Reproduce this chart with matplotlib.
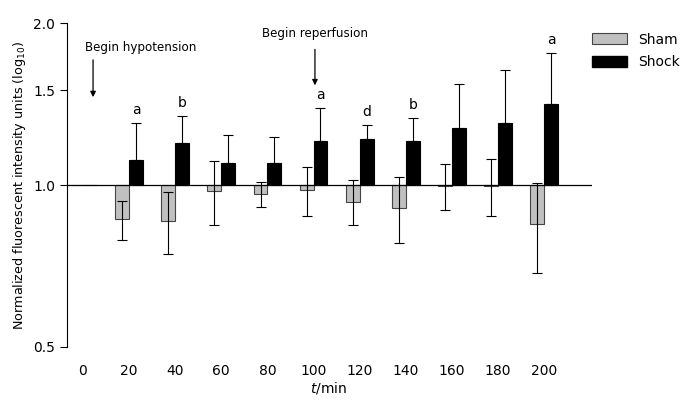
import numpy as np
import matplotlib
matplotlib.use('Agg')
import matplotlib.pyplot as plt
from matplotlib.patches import Patch

# data
times = ['0', '20', '40', '60', '80', '100', '120', '140', '160', '180', '200']
sham = [1.0, 0.863, 0.857, 0.975, 0.962, 0.977, 0.932, 0.908, 0.996, 0.998, 0.847]
sham_err = [0.0, 0.073, 0.112, 0.132, 0.050, 0.102, 0.091, 0.128, 0.097, 0.122, 0.160]
shock = [1.0, 1.111, 1.195, 1.100, 1.100, 1.209, 1.218, 1.209, 1.276, 1.306, 1.415]
shock_err = [0.0, 0.195, 0.150, 0.141, 0.126, 0.182, 0.077, 0.126, 0.263, 0.333, 0.348]
sig = ['', 'a', 'b', '', '', 'a', 'd', 'b', '', '', 'a']

plt.rcParams['font.family'] = 'DejaVu Sans'
plt.rcParams['font.size'] = 9.5

fig = plt.figure(figsize=(7.0, 4.01), dpi=100)
ax = fig.add_axes([0.0957, 0.135, 0.846 - 0.0957, 0.942 - 0.135])

x = np.arange(len(times))
w = 0.3
sham = np.array(sham)
shock = np.array(shock)

ax.bar(x - w / 2, sham - 1, bottom=1, width=w, color='#c0c0c0',
       edgecolor='#444444', linewidth=0.8, zorder=2)
ax.bar(x + w / 2, shock - 1, bottom=1, width=w, color='black',
       edgecolor='black', linewidth=0.8, zorder=2)

m = np.array(sham_err) > 0
ax.errorbar((x - w / 2)[m], sham[m], yerr=np.array(sham_err)[m], fmt='none',
            ecolor='black', elinewidth=0.8, capsize=3.5, capthick=0.8, zorder=3)
m = np.array(shock_err) > 0
ax.errorbar((x + w / 2)[m], shock[m],
            yerr=[np.zeros(m.sum()), np.array(shock_err)[m]], fmt='none',
            ecolor='black', elinewidth=0.8, capsize=3.5, capthick=0.8, zorder=3)

for i, s in enumerate(sig):
    if s:
        ax.annotate(s, (x[i] + w / 2, shock[i] + shock_err[i]),
                    xytext=(0, 4), textcoords='offset points',
                    ha='center', va='bottom', fontsize=10)

ax.axhline(1.0, color='black', lw=0.9, zorder=4)

# event arrows
ax.annotate('', xy=(0.22, 1.44), xytext=(0.22, 1.73),
            arrowprops=dict(arrowstyle='-|>', color='black', lw=0.9, mutation_scale=8))
ax.text(0.04, 1.80, 'Begin hypotension', ha='left', va='center', fontsize=8.6)
ax.annotate('', xy=(5.03, 1.515), xytext=(5.03, 1.81),
            arrowprops=dict(arrowstyle='-|>', color='black', lw=0.9, mutation_scale=8))
ax.text(5.03, 1.915, 'Begin reperfusion', ha='center', va='center', fontsize=8.6)

ax.set_yscale('log')
ax.set_ylim(0.5, 2.0)
ax.set_xlim(-0.345, 11.04)
ax.set_yticks([0.5, 1.0, 1.5, 2.0])
ax.set_yticklabels(['0.5', '1.0', '1.5', '2.0'], fontsize=10)
ax.yaxis.set_minor_locator(matplotlib.ticker.NullLocator())
ax.tick_params(axis='y', direction='out', length=5, width=0.8)
ax.set_xticks(x)
ax.set_xticklabels(times, fontsize=10)
ax.tick_params(axis='x', length=0, pad=12)

for sp in ['top', 'right', 'bottom']:
    ax.spines[sp].set_visible(False)
ax.spines['left'].set_linewidth(0.8)

ax.set_ylabel('Normalized fluorescent intensity units (log$_{10}$)', fontsize=9.2)
ax.set_xlabel('$t$/min', fontsize=10)
ax.xaxis.set_label_coords((328 - 67) / (592 - 67), -0.102)

handles = [Patch(facecolor='#c0c0c0', edgecolor='#444444', linewidth=0.8),
           Patch(facecolor='black', edgecolor='black')]
fig.legend(handles, ['Sham', 'Shock'], loc='upper left',
           bbox_to_anchor=(0.828, 0.95), frameon=False, fontsize=10,
           handlelength=2.5, handleheight=0.85, handletextpad=0.8, labelspacing=0.6)

fig.savefig('out.png', dpi=100)
